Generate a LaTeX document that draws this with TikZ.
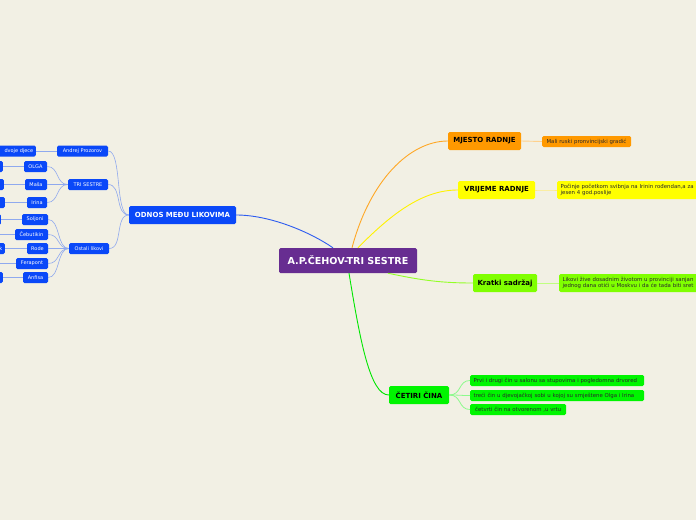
\documentclass[tikz,border=0pt]{standalone}
\usepackage{fontspec}
\setmainfont{DejaVu Sans}
\definecolor{bg}{HTML}{F2F0E4}
\definecolor{purp}{HTML}{672D91}
\definecolor{bl}{HTML}{0A48F8}
\definecolor{blline}{HTML}{8FA9EE}
\definecolor{bldark}{HTML}{2D5CF0}
\definecolor{orng}{HTML}{FF9900}
\definecolor{yel}{HTML}{FFFF00}
\definecolor{lime}{HTML}{80FF00}
\definecolor{grn}{HTML}{00F500}
\definecolor{txt}{HTML}{2A2A2A}
\begin{document}
\begin{tikzpicture}[x=1pt,y=-1pt,
  box/.style={rounded corners=1.5pt, inner sep=0pt, align=center},
  root/.style={box, fill=purp, text=white, font=\bfseries\fontsize{9.6}{11}\selectfont, minimum width=138, minimum height=25},
  main/.style={box, font=\bfseries\fontsize{7}{8}\selectfont, minimum height=18},
  sub/.style={box, fill=bl, text=white, font=\fontsize{5}{5.8}\selectfont, minimum height=11, inner xsep=2.5pt},
  leaf/.style={box, font=\fontsize{5.4}{6.2}\selectfont, minimum height=11, inner xsep=3.5pt, text=txt},
  lft/.style={draw=blline, line width=0.6pt},
]
\path[fill=bg] (0,0) rectangle (696,520);
\clip (0,0) rectangle (696,520);

% central
\node[root] (c) at (348,260.5) {A.P.ČEHOV-TRI SESTRE};

% left big
\node[main, fill=bl, text=white, minimum width=107] (odnos) at (182.5,215) {ODNOS MEĐU LIKOVIMA};
\node[sub, minimum width=51] (andrej) at (82.5,151) {Andrej Prozorov};
\node[sub, anchor=east, text width=52, align=right] (djece) at (36,151) {dvoje djece};
\node[sub, minimum width=40] (tri) at (88,184.5) {TRI SESTRE};
\node[sub, minimum width=23] (olga) at (35.5,166.5) {OLGA};
\node[sub, minimum width=22] (masa) at (36,184.5) {Maša};
\node[sub, minimum width=20] (irina) at (37,202.5) {Irina};
\node[sub, anchor=east, minimum width=30] (olgal) at (3,166.5) {};
\node[sub, anchor=east, minimum width=30] (masal) at (4,184.5) {};
\node[sub, anchor=east, minimum width=30] (irinal) at (5,202.5) {};
\node[sub, minimum width=40] (ostali) at (89,248.5) {Ostali likovi};
\node[sub, minimum width=26] (soljoni) at (35,219.5) {Soljoni};
\node[sub, minimum width=33] (ceb) at (31.5,234.5) {Čebutikin};
\node[sub, minimum width=21] (rode) at (37.5,248.5) {Rode};
\node[sub, minimum width=32] (fera) at (32,263.5) {Ferapont};
\node[sub, minimum width=25] (anfisa) at (35.5,277.5) {Anfisa};
\node[sub, anchor=east, minimum width=30] (soljonil) at (1,219.5) {};
\node[sub, anchor=east, text width=30, align=right] (rodel) at (5,248.5) {k};
\node[sub, anchor=east, minimum width=30] (anfisal) at (3,277.5) {};
\coordinate (cebl) at (0,234.5);
\coordinate (feral) at (0,263.5);

% right
\node[main, fill=orng, minimum width=73] (mjesto) at (484.5,141) {MJESTO RADNJE};
\node[leaf, fill=orng, minimum width=89] (mali) at (586.5,141.5) {Mali ruski pronvincijski gradić};
\node[main, fill=yel, minimum width=77] (vrijeme) at (496.5,190) {VRIJEME RADNJE};
\node[leaf, fill=yel, anchor=west, text width=170, align=left, minimum height=18] (poc) at (557,190) {Počinje početkom svibnja na Irinin rođendan,a za\\jesen 4 god.poslije};
\node[main, fill=lime, minimum width=64] (kratki) at (505,283) {Kratki sadržaj};
\node[leaf, fill=lime, anchor=west, text width=170, align=left, minimum height=18] (likovi) at (559,283) {Likovi žive dosadnim životom u provinciji sanjan\\jednog dana otići u Moskvu i da će tada biti sret};
\node[main, fill=grn, minimum width=60] (cetiri) at (419,395) {ČETIRI ČINA};
\node[leaf, fill=grn, anchor=west, text width=167, align=left] (prvi) at (470,380.5) {Prvi i drugi čin u salonu sa stupovima i pogledomna drvored};
\node[leaf, fill=grn, anchor=west, text width=167, align=left] (treci) at (470,395.5) {treći čin u djevojačkoj sobi u kojoj su smještene Olga i Irina};
\node[leaf, fill=grn, anchor=west, minimum width=96, align=left] (cetvrti) at (470,409.5) {četvrti čin na otvorenom ,u vrtu};

% connectors from root
\draw[bldark, line width=0.9pt] ([xshift=-15pt]c.north) .. controls (310,232) and (270,215) .. (odnos.east);
\draw[orng!85, line width=0.9pt] ([xshift=4pt]c.north) .. controls (370,180) and (410,141) .. (mjesto.west);
\draw[yel!90!orange, line width=0.9pt] ([xshift=10pt]c.north) .. controls (395,210) and (425,190) .. (vrijeme.west);
\draw[lime!85, line width=0.9pt] ([xshift=40pt]c.south) .. controls (420,280) and (440,283) .. (kratki.west);
\draw[grn!90!black!60!grn, line width=0.9pt] ([xshift=1pt]c.south) .. controls (360,340) and (370,395) .. (cetiri.west);

% right leaf connectors
\draw[orng!45, line width=0.9pt] (mjesto.east) -- (mali.west);
\draw[yel!70!orange!50, line width=0.9pt] (vrijeme.east) .. controls (545,190) .. (poc.west);
\draw[lime!50, line width=0.9pt] (kratki.east) -- (likovi.west);
\foreach \t in {prvi,treci,cetvrti}
  \draw[grn!45, line width=0.8pt] (cetiri.east) .. controls (462,395) and (458,0|-\t.west) .. (\t.west);

% left connectors
\foreach \t in {andrej,tri,ostali}
  \draw[lft] (odnos.west) .. controls ++(-14,0) and ([xshift=14pt]\t.east) .. (\t.east);
\foreach \t in {olga,masa,irina}
  \draw[lft] (tri.west) .. controls ++(-12,0) and ([xshift=12pt]\t.east) .. (\t.east);
\foreach \t in {soljoni,ceb,rode,fera,anfisa}
  \draw[lft] (ostali.west) .. controls ++(-12,0) and ([xshift=12pt]\t.east) .. (\t.east);
\draw[lft] (andrej.west) -- (djece.east);
\draw[lft] (olga.west) -- (olgal.east);
\draw[lft] (masa.west) -- (masal.east);
\draw[lft] (irina.west) -- (irinal.east);
\draw[lft] (soljoni.west) -- (soljonil.east);
\draw[lft] (ceb.west) -- (cebl);
\draw[lft] (rode.west) -- (rodel.east);
\draw[lft] (fera.west) -- (feral);
\draw[lft] (anfisa.west) -- (anfisal.east);
\end{tikzpicture}
\end{document}
